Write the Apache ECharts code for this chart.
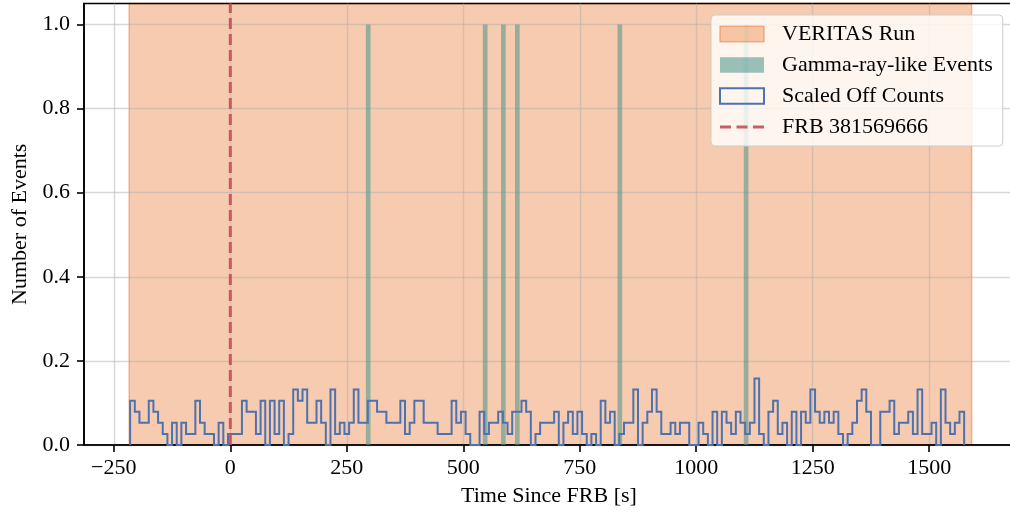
<!DOCTYPE html>
<html>
<head>
<meta charset="utf-8">
<title>VERITAS run around FRB 381569666</title>
<script src="https://cdn.jsdelivr.net/npm/echarts@6/dist/echarts.min.js"></script>
<style>
  html, body { margin: 0; padding: 0; background: #ffffff; }
  #chart { width: 1010px; height: 512px; }
</style>
</head>
<body>
<div id="chart"></div>
<script>
// VERITAS observation window, seconds relative to the burst
const runStart = -217;
const runEnd = 1591;

// Off-region background counts in 10 s bins, scaled by the on/off exposure ratio
const offBinStart = -215;
const offBinWidth = 10;
const offScaled = [
  0.105, 0.079, 0.053, 0.053, 0.105, 0.079, 0.053, 0.026, 0, 0.053,
  0, 0.053, 0.026, 0.026, 0.105, 0.053, 0.026, 0.026, 0, 0.053,
  0, 0.026, 0.026, 0.026, 0.105, 0.079, 0.079, 0.026, 0.105, 0,
  0.105, 0.026, 0.105, 0, 0.026, 0.132, 0.105, 0.132, 0.053, 0.053,
  0.105, 0.053, 0, 0.132, 0.026, 0.053, 0.026, 0.053, 0.132, 0.053,
  0.053, 0.105, 0.105, 0.079, 0.079, 0.053, 0.053, 0.053, 0.105, 0.026,
  0.053, 0.105, 0.105, 0.053, 0.053, 0.053, 0.026, 0.026, 0.026, 0.105,
  0.053, 0.079, 0.026, 0, 0, 0.079, 0.026, 0.053, 0.053, 0.079,
  0.053, 0.026, 0.079, 0.079, 0.105, 0.079, 0, 0.026, 0.053, 0.053,
  0.053, 0.079, 0, 0.053, 0.079, 0.026, 0.079, 0.026, 0, 0.026,
  0, 0.105, 0.053, 0.079, 0, 0.026, 0.053, 0.053, 0.132, 0,
  0.053, 0.079, 0.132, 0.079, 0.026, 0.026, 0.053, 0.026, 0.053, 0.053,
  0, 0, 0.053, 0.026, 0, 0.079, 0, 0.079, 0.053, 0.026,
  0.079, 0.053, 0.026, 0.053, 0.158, 0.026, 0, 0.079, 0.105, 0.026,
  0.053, 0, 0.079, 0, 0.079, 0.053, 0.132, 0.079, 0.053, 0.079,
  0.053, 0.079, 0.026, 0, 0.026, 0.053, 0.105, 0.132, 0.079, 0,
  0, 0.079, 0.079, 0.105, 0.026, 0.053, 0.053, 0.079, 0.026, 0.132,
  0.026, 0.026, 0.053, 0, 0.132, 0.053, 0.026, 0.053, 0.079
];

// Gamma-ray-like events in the source region, 10 s bins
const gammaBinStarts = [291, 542, 581, 611, 831, 1102];
const gammaCounts = [1, 1, 1, 1, 1, 1];
const gammaBinWidth = 10;

// Burst arrival time
const frbTime = 0;

// Axis ranges and tick positions
const xRange = [-314, 1682];
const yRange = [0, 1.05];
const xTicks = [-250, 0, 250, 500, 750, 1000, 1250, 1500];
const yTicks = [0, 0.2, 0.4, 0.6, 0.8, 1.0];

const FONT = '"Liberation Serif", "Times New Roman", serif';
const RUN_FILL = 'rgba(235,130,65,0.42)';
const RUN_EDGE = 'rgba(235,130,65,0.55)';
const GAMMA_FILL = 'rgba(80,152,142,0.58)';
const OFF_COLOR = '#4c72b0';
const FRB_COLOR = 'rgba(196,78,82,0.9)';
const GRID_COLOR = 'rgba(176,176,176,0.5)';
const INK = '#000000';

// Step outline of the off-count histogram: up at each bin edge, across each bin
const offEdge = k => offBinStart + k * offBinWidth;
const offOutline = [[offEdge(0), 0]];
offScaled.forEach((v, k) => {
  offOutline.push([offEdge(k), v], [offEdge(k + 1), v]);
});
offOutline.push([offEdge(offScaled.length), 0]);

const gammaData = gammaBinStarts.map((s, i) => [s, s + gammaBinWidth, gammaCounts[i]]);

const fmtX = v => (v < 0 ? '\u2212' + Math.abs(v) : String(v));

const chart = echarts.init(document.getElementById('chart'), null, { renderer: 'canvas' });

chart.setOption({
  animation: false,
  backgroundColor: '#ffffff',
  grid: {
    left: 84, top: 3.5, width: 930, height: 441.5,
    outerBoundsMode: 'none',
    containLabel: false,
    show: true, borderColor: INK, borderWidth: 1.6, backgroundColor: 'transparent'
  },
  xAxis: {
    type: 'value',
    min: xRange[0], max: xRange[1],
    axisLine: { show: true, onZero: false, lineStyle: { color: INK, width: 1.6 } },
    axisTick: { show: true, length: 7, customValues: xTicks, lineStyle: { color: INK, width: 1.6 } },
    axisLabel: {
      customValues: xTicks, margin: 12, formatter: fmtX,
      fontFamily: FONT, fontSize: 22, color: INK
    },
    splitLine: { show: true, lineStyle: { color: GRID_COLOR, width: 1.4 } },
    name: 'Time Since FRB [s]', nameLocation: 'middle', nameGap: 40,
    nameTextStyle: { fontFamily: FONT, fontSize: 22, color: INK }
  },
  yAxis: {
    type: 'value',
    min: yRange[0], max: yRange[1],
    axisLine: { show: true, onZero: false, lineStyle: { color: INK, width: 1.6 } },
    axisTick: { show: true, length: 7, customValues: yTicks, lineStyle: { color: INK, width: 1.6 } },
    axisLabel: {
      customValues: yTicks, margin: 14, formatter: v => v.toFixed(1),
      fontFamily: FONT, fontSize: 22, color: INK
    },
    splitLine: { show: true, lineStyle: { color: GRID_COLOR, width: 1.4 } },
    name: 'Number of Events', nameLocation: 'middle', nameGap: 52, nameRotate: 90,
    nameTextStyle: { fontFamily: FONT, fontSize: 22, color: INK }
  },
  legend: {
    orient: 'vertical',
    left: 711, top: 15,
    padding: [8, 10, 8, 8],
    itemGap: 9,
    itemWidth: 44, itemHeight: 15.5,
    backgroundColor: 'rgba(255,255,255,0.8)',
    borderColor: '#cccccc', borderWidth: 1, borderRadius: 4,
    selectedMode: false,
    textStyle: { fontFamily: FONT, fontSize: 22, color: INK, padding: [0, 0, 0, 13] },
    data: [
      { name: 'VERITAS Run', icon: 'rect',
        itemStyle: { color: RUN_FILL, borderColor: RUN_EDGE, borderWidth: 1.5 } },
      { name: 'Gamma-ray-like Events', icon: 'rect',
        itemStyle: { color: GAMMA_FILL, borderWidth: 0 } },
      { name: 'Scaled Off Counts', icon: 'rect',
        itemStyle: { color: 'rgba(255,255,255,0)', borderColor: OFF_COLOR, borderWidth: 2 } },
      { name: 'FRB 381569666',
        icon: 'path://M0,0h11v3h-11z M16.5,0h11v3h-11z M33,0h11v3h-11z',
        itemStyle: { color: FRB_COLOR, borderWidth: 0 } }
    ]
  },
  series: [
    {
      name: 'VERITAS Run',
      type: 'custom',
      z: -1,
      silent: true,
      data: [[runStart, runEnd]],
      renderItem: (params, api) => {
        const cs = params.coordSys;
        const x0 = api.coord([api.value(0), 0])[0];
        const x1 = api.coord([api.value(1), 0])[0];
        return {
          type: 'rect',
          shape: { x: x0, y: cs.y, width: x1 - x0, height: cs.height },
          style: { fill: RUN_FILL, stroke: RUN_EDGE, lineWidth: 1.5 }
        };
      }
    },
    {
      name: 'Gamma-ray-like Events',
      type: 'custom',
      z: 2,
      silent: true,
      data: gammaData,
      renderItem: (params, api) => {
        const p0 = api.coord([api.value(0), 0]);
        const p1 = api.coord([api.value(1), api.value(2)]);
        return {
          type: 'rect',
          shape: { x: p0[0], y: p1[1], width: p1[0] - p0[0], height: p0[1] - p1[1] },
          style: { fill: GAMMA_FILL }
        };
      }
    },
    {
      name: 'Scaled Off Counts',
      type: 'line',
      z: 4,
      silent: true,
      showSymbol: false,
      symbol: 'none',
      data: offOutline,
      lineStyle: { color: OFF_COLOR, width: 2, join: 'miter' },
      itemStyle: { color: OFF_COLOR }
    },
    {
      name: 'FRB 381569666',
      type: 'line',
      z: 5,
      silent: true,
      showSymbol: false,
      symbol: 'none',
      data: [[frbTime, yRange[0]], [frbTime, yRange[1]]],
      lineStyle: { color: FRB_COLOR, width: 3, type: [11, 5] },
      itemStyle: { color: FRB_COLOR }
    }
  ]
});
</script>
</body>
</html>
